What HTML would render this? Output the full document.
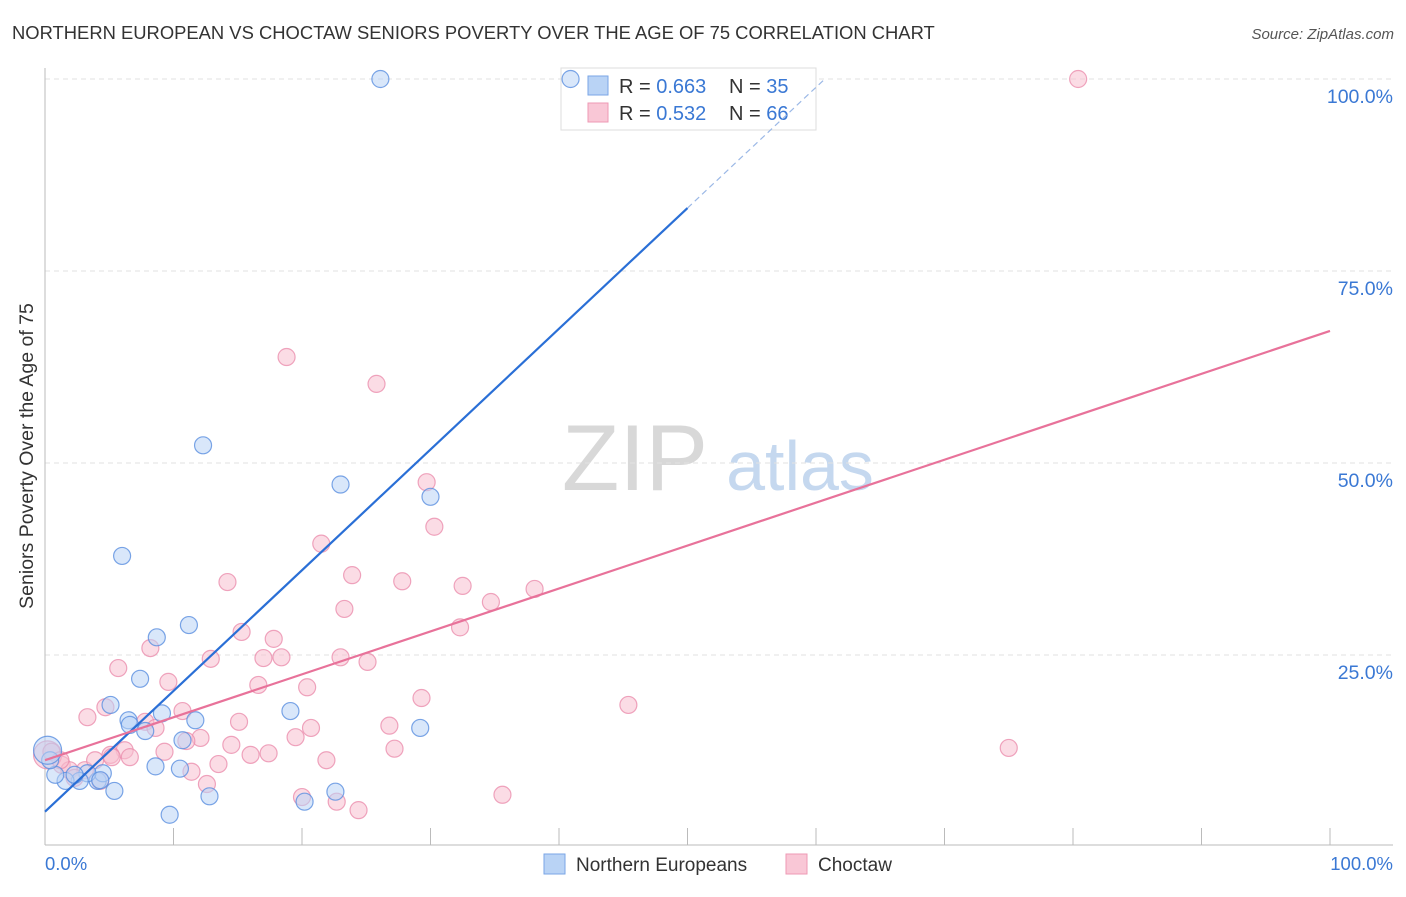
<!DOCTYPE html>
<html><head><meta charset="utf-8"><style>
body{margin:0;background:#fff;font-family:"Liberation Sans",sans-serif}
svg text{font-family:"Liberation Sans",sans-serif}
</style></head><body>
<svg id="c" width="1406" height="892">
<text x="12" y="39" font-size="18.4" fill="#333">NORTHERN EUROPEAN VS CHOCTAW SENIORS POVERTY OVER THE AGE OF 75 CORRELATION CHART</text>
<text x="1394" y="39" font-size="15" fill="#555" text-anchor="end" font-style="italic">Source: ZipAtlas.com</text>
<text transform="translate(33,456) rotate(-90)" font-size="19.5" fill="#333" text-anchor="middle">Seniors Poverty Over the Age of 75</text>
<g><text x="635" y="490" font-size="94" fill="#d8d8d8" font-family="Liberation Serif,serif" text-anchor="middle">ZIP</text><text x="800" y="490" font-size="70" fill="#c5d8ef" text-anchor="middle">atlas</text></g>
<g id="grid"></g><g id="axes"></g>
<g>
<rect x="561" y="68" width="255" height="62" fill="#fff" stroke="#ddd"/>
<rect x="588" y="76" width="20" height="19" fill="#b9d3f5" stroke="#7aa6e6"/>
<rect x="588" y="103" width="20" height="19" fill="#f9c7d6" stroke="#ee9ab4"/>
<text x="619" y="93" font-size="20" fill="#333">R = <tspan fill="#3a78d4">0.663</tspan></text>
<text x="729" y="93" font-size="20" fill="#333">N = <tspan fill="#3a78d4">35</tspan></text>
<text x="619" y="120" font-size="20" fill="#333">R = <tspan fill="#3a78d4">0.532</tspan></text>
<text x="729" y="120" font-size="20" fill="#333">N = <tspan fill="#3a78d4">66</tspan></text>
</g>
<g id="pts"></g><g id="lines"></g>
<g>
<rect x="544" y="854" width="21" height="20" fill="#b9d3f5" stroke="#7aa6e6"/>
<text x="576" y="871" font-size="19" fill="#333">Northern Europeans</text>
<rect x="786" y="854" width="21" height="20" fill="#f9c7d6" stroke="#ee9ab4"/>
<text x="818" y="871" font-size="19" fill="#333">Choctaw</text>
</g>
<text x="45" y="870" font-size="18.5" fill="#3a78d4">0.0%</text>
<text x="1393" y="870" font-size="18.5" fill="#3a78d4" text-anchor="end">100.0%</text>
</svg>
<script>
const blueX=[26.1,40.9,12.3,23.0,30.0,6.0,8.7,11.2,7.4,5.1,19.1,11.7,6.5,9.1,7.8,10.7,8.6,10.5,12.8,29.2,22.6,20.2,9.7,5.4,4.1,4.5,3.3,2.7,1.6,0.8,2.3,0.4,0.2,4.3,6.6];
const blueY=[100,100,52.3,47.2,45.6,37.9,27.3,28.9,21.9,18.5,17.7,16.5,16.5,17.4,15.1,13.9,10.5,10.2,6.6,15.5,7.2,5.9,4.2,7.3,8.6,9.6,9.6,8.6,8.6,9.4,9.4,11.3,12.6,8.7,15.9];
const pinkX=[80.4,18.8,25.8,29.7,30.3,21.5,23.9,27.8,32.5,38.1,14.2,23.3,34.7,32.3,8.2,15.3,17.8,17.0,18.4,12.9,23.0,25.1,5.7,9.6,16.6,20.4,29.3,45.4,3.3,4.7,10.7,7.8,8.6,15.1,20.7,19.5,26.8,75.0,12.1,14.5,11.0,6.2,9.3,17.4,16.0,27.2,5.1,6.6,13.5,21.9,11.4,12.6,4.3,3.1,1.3,1.9,20.0,22.7,35.6,24.4,0.2,0.5,3.9,2.3,5.2,1.2];
const pinkY=[100,63.8,60.3,47.5,41.7,39.5,35.4,34.6,34.0,33.6,34.5,31.0,31.9,28.6,25.9,28.0,27.1,24.6,24.7,24.5,24.7,24.1,23.3,21.5,21.1,20.8,19.4,18.5,16.9,18.2,17.7,16.3,15.5,16.3,15.5,14.3,15.8,12.9,14.2,13.3,13.8,12.6,12.4,12.2,12.0,12.8,12.0,11.7,10.8,11.3,9.8,8.2,8.6,10.0,10.7,10.0,6.5,5.9,6.8,4.8,12.0,12.4,11.3,9.0,11.7,11.3];
const blueLine=[4.6,83.2];   // y at x=0 and x=50
const pinkLine=[11.3,67.2];  // y at x=0 and x=100
const yTicks=[25,50,75,100];
const yTickLabels=["25.0%","50.0%","75.0%","100.0%"];
const xTicks=[10,20,30,40,50,60,70,80,90,100];
const sx=v=>45+v*12.85, sy=v=>847-v*7.68;
const NS="http://www.w3.org/2000/svg";
function mk(p,t,a){const e=document.createElementNS(NS,t);for(const k in a)e.setAttribute(k,a[k]);p.appendChild(e);return e;}
const G=id=>document.getElementById(id);
yTicks.forEach((v,i)=>{
 const l=mk(G('grid'),'line',{x1:45,x2:1393,y1:sy(v),y2:sy(v),stroke:'#e2e2e2','stroke-dasharray':'5,4'});
 
 
 const t=mk(G('grid'),'text',{x:1393,y:sy(v)+24,'font-size':19.5,fill:'#3a78d4','text-anchor':'end'});
 t.textContent=yTickLabels[i];
 
 
});
const ax=mk(G('axes'),'line',{x1:45,x2:45,y1:68,y2:845,stroke:'#bbb'});


const bx=mk(G('axes'),'line',{x1:45,x2:1393,y1:845,y2:845,stroke:'#bbb'});


xTicks.forEach(v=>{
 const l=mk(G('axes'),'line',{x1:sx(v),x2:sx(v),y1:828,y2:845,stroke:'#bbb'});
 
 
});
function dots(X,Y,fill,stroke,name){
 X.forEach((x,i)=>{
  const big=(x<0.5&&Y[i]>11.5&&Y[i]<12.7);
  const c=mk(G('pts'),'circle',{cx:sx(x),cy:sy(Y[i]),r:big?14:8.5,fill:fill,'fill-opacity':0.55,stroke:stroke,'stroke-width':1.2,'stroke-opacity':0.8});
  
  
 });
}
dots(pinkX,pinkY,'#f7bfd0','#eb8fae','choctaw-point');
dots(blueX,blueY,'#b9d3f5','#5a8fe0','northern-point');
const slope=(blueLine[1]-blueLine[0])/50;
const l1=mk(G('lines'),'line',{x1:sx(0),y1:sy(blueLine[0]),x2:sx(50),y2:sy(blueLine[1]),stroke:'#2a6fd6','stroke-width':2.2});


const xe=(100-blueLine[0])/slope;
const l2=mk(G('lines'),'line',{x1:sx(50),y1:sy(blueLine[1]),x2:sx(xe),y2:sy(blueLine[0]+slope*xe),stroke:'#9bb8e6','stroke-width':1.2,'stroke-dasharray':'6,4'});


const l3=mk(G('lines'),'line',{x1:sx(0),y1:sy(pinkLine[0]),x2:sx(100),y2:sy(pinkLine[1]),stroke:'#e8729a','stroke-width':2.2});


</script>
</body></html>
